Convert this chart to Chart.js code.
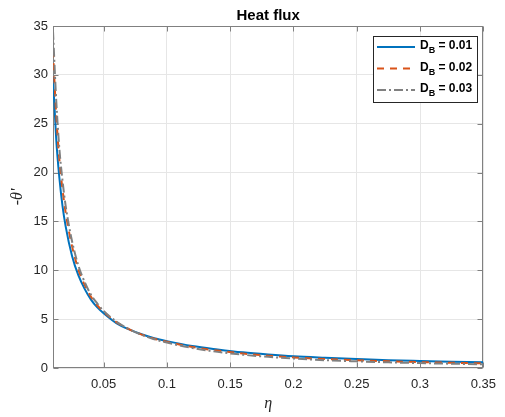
<!DOCTYPE html>
<html>
<head>
<meta charset="utf-8">
<script src="https://cdn.jsdelivr.net/npm/chart.js@4.4.0/dist/chart.umd.min.js"></script>
<style>
  html, body { margin: 0; padding: 0; background: #fff; }
  canvas { display: block; }
</style>
</head>
<body>
<canvas id="heatFlux" width="505" height="417"></canvas>
<script>
// values
var eta = [0.01, 0.0125, 0.015, 0.0175, 0.02, 0.025, 0.03, 0.035, 0.04, 0.045, 0.05,
  0.06, 0.07, 0.08, 0.09, 0.1, 0.12, 0.14, 0.16, 0.18, 0.2, 0.225, 0.25, 0.275, 0.3, 0.325, 0.35];
var dB001 = [29.8, 23.5, 19.5, 16.6, 14.5, 11.5, 9.5, 8.1, 7.0, 6.2, 5.6,
  4.6, 3.95, 3.45, 3.05, 2.75, 2.25, 1.9, 1.6, 1.38, 1.2, 1.05, 0.92, 0.8, 0.72, 0.65, 0.58];
var dB002 = [32.5, 26.0, 21.4, 18.3, 15.9, 12.5, 10.1, 8.5, 7.3, 6.4, 5.75,
  4.7, 3.97, 3.42, 3.0, 2.68, 2.15, 1.78, 1.48, 1.26, 1.08, 0.92, 0.8, 0.69, 0.6, 0.54, 0.48];
var dB003 = [34.5, 27.5, 22.5, 19.2, 16.6, 13.0, 10.5, 8.8, 7.5, 6.6, 5.85,
  4.75, 3.98, 3.4, 2.95, 2.6, 2.05, 1.65, 1.36, 1.14, 0.97, 0.8, 0.68, 0.58, 0.5, 0.44, 0.38];
var seriesNames = ["0.01", "0.02", "0.03"];
var xTicks = [0.05, 0.1, 0.15, 0.2, 0.25, 0.3, 0.35];
var yTicks = [0, 5, 10, 15, 20, 25, 30, 35];

var colors = ["#0072BD", "#D95319", "#808080"];
var dashes = [[], [7, 6], [9, 3, 2, 3]];

function points(ys) {
  return eta.map(function (x, i) { return { x: x, y: ys[i] }; });
}

var axisColor = "#808080";
var textColor = "#262626";

var framePlugin = {
  id: "frame",
  beforeDatasetsDraw: function (chart) {
    var ctx = chart.ctx, a = chart.chartArea;
    var xs = chart.scales.x, ys = chart.scales.y;
    var l = Math.round(a.left) + 0.5, r = Math.round(a.right) - 0.5;
    var t = Math.round(a.top) + 0.5, b = Math.round(a.bottom) - 0.5;
    ctx.save();
    ctx.strokeStyle = axisColor;
    ctx.lineWidth = 1;
    ctx.strokeRect(l, t, r - l, b - t);
    ctx.beginPath();
    xTicks.forEach(function (v) {
      var px = Math.round(xs.getPixelForValue(v)) + 0.5;
      ctx.moveTo(px, b); ctx.lineTo(px, b - 5);
      ctx.moveTo(px, t); ctx.lineTo(px, t + 5);
    });
    yTicks.forEach(function (v) {
      var py = Math.round(ys.getPixelForValue(v)) + 0.5;
      ctx.moveTo(l, py); ctx.lineTo(l + 5, py);
      ctx.moveTo(r, py); ctx.lineTo(r - 5, py);
    });
    ctx.stroke();
    ctx.restore();
  },
  afterDraw: function (chart) {
    var ctx = chart.ctx, a = chart.chartArea;
    ctx.save();
    ctx.fillStyle = "#000";
    ctx.textAlign = "center";
    ctx.textBaseline = "middle";
    ctx.font = "bold 15px 'Liberation Sans', Arial, sans-serif";
    ctx.fillText("Heat flux", (a.left + a.right) / 2, 16);

    ctx.fillStyle = textColor;
    ctx.font = "italic 16px 'Liberation Serif', serif";
    ctx.fillText("\u03b7", (a.left + a.right) / 2, 404);

    ctx.translate(18, (a.top + a.bottom) / 2);
    ctx.rotate(-Math.PI / 2);
    ctx.fillText("-\u03b8'", 0, 0);
    ctx.restore();

    // legend
    var lx = 373, ly = 36, lw = 104, lh = 66;
    ctx.save();
    ctx.fillStyle = "#fff";
    ctx.fillRect(lx, ly, lw, lh);
    ctx.strokeStyle = textColor;
    ctx.lineWidth = 1;
    ctx.strokeRect(lx + 0.5, ly + 0.5, lw, lh);
    var rows = [47, 68.5, 90];
    seriesNames.forEach(function (name, i) {
      var y = rows[i];
      ctx.strokeStyle = colors[i];
      ctx.lineWidth = 2;
      ctx.setLineDash(dashes[i]);
      ctx.beginPath();
      ctx.moveTo(377, y); ctx.lineTo(415, y);
      ctx.stroke();
      ctx.setLineDash([]);
      ctx.fillStyle = "#000";
      ctx.textAlign = "left";
      ctx.textBaseline = "middle";
      ctx.font = "bold 12px 'Liberation Sans', Arial, sans-serif";
      ctx.fillText("D", 420, y - 1);
      var w = ctx.measureText("D").width;
      ctx.font = "bold 9px 'Liberation Sans', Arial, sans-serif";
      ctx.fillText("B", 420 + w, y + 4);
      var w2 = ctx.measureText("B").width;
      ctx.font = "bold 12px 'Liberation Sans', Arial, sans-serif";
      ctx.fillText(" = " + name, 420 + w + w2, y - 1);
    });
    ctx.restore();
  }
};

var seriesData = [dB001, dB002, dB003];
var datasets = seriesData.map(function (ys, i) {
  return {
    label: "D_B = " + seriesNames[i],
    data: points(ys),
    borderColor: colors[i],
    borderWidth: 2,
    borderDash: dashes[i],
    pointRadius: 0,
    fill: false,
    cubicInterpolationMode: "monotone",
    order: 3 - i
  };
});

new Chart(document.getElementById("heatFlux"), {
  type: "line",
  data: { datasets: datasets },
  options: {
    responsive: false,
    animation: false,
    layout: { padding: { top: 26, right: 18, left: 0, bottom: 0 } },
    plugins: { legend: { display: false }, title: { display: false }, tooltip: { enabled: false } },
    scales: {
      x: {
        type: "linear",
        min: 0.01,
        max: 0.35,
        afterBuildTicks: function (scale) {
          scale.ticks = xTicks.map(function (v) { return { value: v }; });
        },
        afterFit: function (scale) { scale.height = 49; },
        grid: { color: "#e6e6e6", drawTicks: false },
        border: { display: false },
        ticks: {
          padding: 9,
          color: textColor,
          maxRotation: 0,
          font: { family: "'Liberation Sans', Arial, sans-serif", size: 13 },
          callback: function (v) { return String(v); }
        }
      },
      y: {
        type: "linear",
        min: 0,
        max: 35,
        afterBuildTicks: function (scale) {
          scale.ticks = yTicks.map(function (v) { return { value: v }; });
        },
        afterFit: function (scale) { scale.width = 53; },
        grid: { color: "#e6e6e6", drawTicks: false },
        border: { display: false },
        ticks: {
          padding: 5,
          color: textColor,
          font: { family: "'Liberation Sans', Arial, sans-serif", size: 13 }
        }
      }
    }
  },
  plugins: [framePlugin]
});
</script>
</body>
</html>
